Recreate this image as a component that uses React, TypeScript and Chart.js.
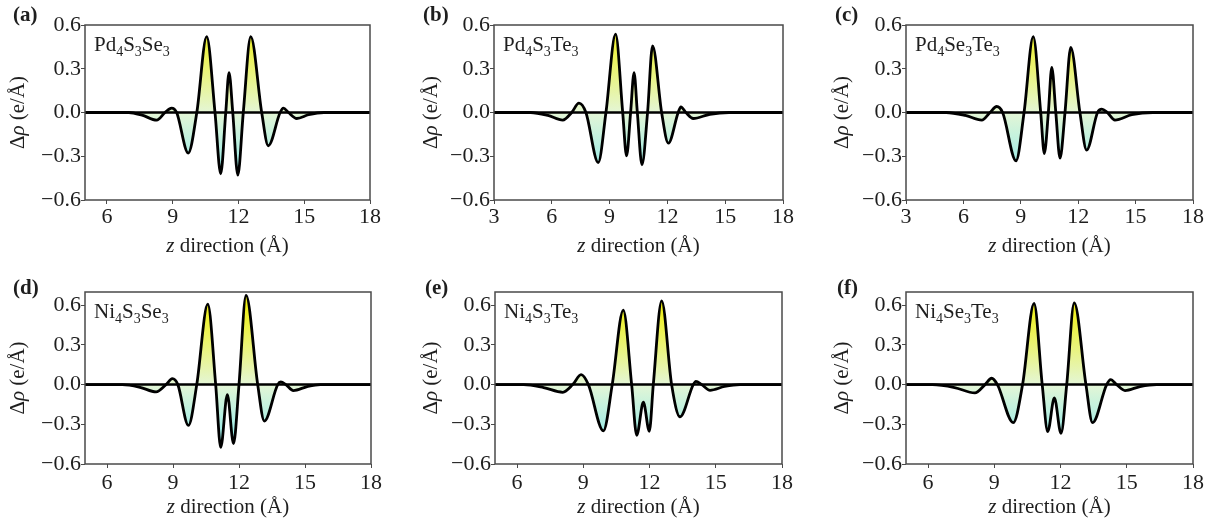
import React, { useEffect, useRef } from 'react';
import { Chart, registerables } from 'chart.js';

Chart.register(...registerables);

const FONT = '"Liberation Serif", "Times New Roman", Times, serif';

// ---------- data (z in Å, Δρ in e/Å) ----------
// (a) Pd4S3Se3
const zA = [5, 7.0, 7.6, 8.27, 8.65, 8.95, 9.18, 9.71, 10.1, 10.55, 10.93, 11.19, 11.42, 11.57, 11.74, 11.97, 12.22, 12.56, 13.06, 13.36, 13.9, 14.05, 14.28, 14.66, 15.2, 15.9, 18];
const rhoA = [0, 0, -0.018, -0.052, 0, 0.03, 0, -0.278, 0, 0.52, 0, -0.42, 0, 0.274, 0, -0.43, 0, 0.52, 0, -0.228, 0, 0.03, 0, -0.041, -0.015, 0, 0];
// (b) Pd4S3Te3
const zB = [3, 4.9, 5.8, 6.57, 7.03, 7.41, 7.77, 8.41, 8.81, 9.31, 9.68, 9.88, 10.09, 10.27, 10.44, 10.68, 10.97, 11.23, 11.7, 12.05, 12.56, 12.7, 12.96, 13.34, 14.2, 15.2, 18];
const rhoB = [0, 0, -0.02, -0.052, 0, 0.064, 0, -0.343, 0, 0.537, 0, -0.297, 0, 0.274, 0, -0.359, 0, 0.457, 0, -0.21, 0, 0.039, 0, -0.041, -0.012, 0, 0];
// (c) Pd4Se3Te3
const zC = [3, 5.1, 6.1, 6.96, 7.39, 7.74, 8.05, 8.75, 9.17, 9.65, 10.04, 10.23, 10.44, 10.62, 10.83, 11.05, 11.31, 11.61, 12.09, 12.44, 13.01, 13.23, 13.52, 13.92, 14.8, 15.9, 18];
const rhoC = [0, 0, -0.02, -0.052, 0, 0.041, 0, -0.331, 0, 0.52, 0, -0.281, 0, 0.309, 0, -0.313, 0, 0.446, 0, -0.258, 0, 0.023, 0, -0.052, -0.015, 0, 0];
// (d) Ni4S3Se3
const zD = [5, 6.7, 7.5, 8.23, 8.68, 8.97, 9.22, 9.7, 10.08, 10.58, 10.94, 11.17, 11.47, 11.75, 12.0, 12.32, 12.85, 13.15, 13.76, 13.9, 14.13, 14.47, 15.1, 15.7, 18];
const rhoD = [0, 0, -0.02, -0.055, 0, 0.045, 0, -0.308, 0, 0.608, 0, -0.475, -0.075, -0.445, 0, 0.675, 0, -0.275, 0, 0.02, 0, -0.045, -0.015, 0, 0];
// (e) Ni4S3Te3
const zE = [5, 6.3, 7.2, 8.07, 8.52, 8.9, 9.23, 9.91, 10.31, 10.81, 11.19, 11.42, 11.72, 11.99, 12.17, 12.55, 13.0, 13.38, 13.98, 14.1, 14.36, 14.74, 15.4, 16.1, 18];
const rhoE = [0, 0, -0.022, -0.058, 0, 0.075, 0, -0.35, 0, 0.563, 0, -0.383, -0.133, -0.353, 0, 0.633, 0, -0.243, 0, 0.025, 0, -0.043, -0.014, 0, 0];
// (f) Ni4Se3Te3
const zF = [5, 6.2, 7.2, 8.12, 8.58, 8.88, 9.14, 9.86, 10.28, 10.8, 11.17, 11.42, 11.72, 12.02, 12.28, 12.62, 13.15, 13.45, 14.09, 14.27, 14.54, 14.92, 15.6, 16.35, 18];
const rhoF = [0, 0, -0.022, -0.063, 0, 0.048, 0, -0.288, 0, 0.613, 0, -0.355, -0.1, -0.368, 0, 0.618, 0, -0.288, 0, 0.038, 0, -0.045, -0.015, 0, 0];

const xTicks5 = [6, 9, 12, 15, 18];
const xTicks3 = [3, 6, 9, 12, 15, 18];
const yTicks = [-0.6, -0.3, 0, 0.3, 0.6];
const xRange5 = [5, 18];
const xRange3 = [3, 18];
const yRangeTop = [-0.6, 0.6];
const yRangeBottom = [-0.6, 0.7];

const letters = ['(a)', '(b)', '(c)', '(d)', '(e)', '(f)'];
const compounds = ['Pd_4S_3Se_3', 'Pd_4S_3Te_3', 'Pd_4Se_3Te_3', 'Ni_4S_3Se_3', 'Ni_4S_3Te_3', 'Ni_4Se_3Te_3'];

// ---------- layout ----------
type Layout = {
  left: number; top: number; width: number; height: number;
  padTop: number; padRight: number; axisW: number; axisH: number;
  letterX: number; letterY: number; yTitleX: number; xTitleY: number; xTickPad: number;
};

const layouts: Layout[] = [
  { left: 0, top: 0, width: 410, height: 262, padTop: 25, padRight: 40, axisW: 85, axisH: 62, letterX: 13, letterY: 21, yTitleX: 18, xTitleY: 252, xTickPad: 0 },
  { left: 410, top: 0, width: 410, height: 262, padTop: 25, padRight: 37, axisW: 84, axisH: 62, letterX: 13, letterY: 21, yTitleX: 21, xTitleY: 252, xTickPad: 0 },
  { left: 820, top: 0, width: 389, height: 262, padTop: 25, padRight: 16, axisW: 86, axisH: 62, letterX: 15, letterY: 21, yTitleX: 22, xTitleY: 252, xTickPad: 0 },
  { left: 0, top: 262, width: 410, height: 262, padTop: 30, padRight: 39, axisW: 85, axisH: 60, letterX: 13, letterY: 32, yTitleX: 18, xTitleY: 251, xTickPad: 2 },
  { left: 410, top: 262, width: 410, height: 262, padTop: 30, padRight: 38, axisW: 85, axisH: 60, letterX: 15, letterY: 32, yTitleX: 21, xTitleY: 251, xTickPad: 2 },
  { left: 820, top: 262, width: 389, height: 262, padTop: 30, padRight: 16, axisW: 86, axisH: 60, letterX: 17, letterY: 32, yTitleX: 22, xTitleY: 251, xTickPad: 2 },
];

type Panel = {
  letter: string; compound: string; z: number[]; rho: number[];
  xRange: number[]; xTicks: number[]; yRange: number[]; L: Layout;
};

const panels: Panel[] = [
  { letter: letters[0], compound: compounds[0], z: zA, rho: rhoA, xRange: xRange5, xTicks: xTicks5, yRange: yRangeTop, L: layouts[0] },
  { letter: letters[1], compound: compounds[1], z: zB, rho: rhoB, xRange: xRange3, xTicks: xTicks3, yRange: yRangeTop, L: layouts[1] },
  { letter: letters[2], compound: compounds[2], z: zC, rho: rhoC, xRange: xRange3, xTicks: xTicks3, yRange: yRangeTop, L: layouts[2] },
  { letter: letters[3], compound: compounds[3], z: zD, rho: rhoD, xRange: xRange5, xTicks: xTicks5, yRange: yRangeBottom, L: layouts[3] },
  { letter: letters[4], compound: compounds[4], z: zE, rho: rhoE, xRange: xRange5, xTicks: xTicks5, yRange: yRangeBottom, L: layouts[4] },
  { letter: letters[5], compound: compounds[5], z: zF, rho: rhoF, xRange: xRange5, xTicks: xTicks5, yRange: yRangeBottom, L: layouts[5] },
];

const TEXT = '#1e1e1e';

function fillGradient(context: any) {
  const chart = context.chart;
  const { ctx, chartArea, scales } = chart;
  if (!chartArea || !scales.y) return 'rgba(0,0,0,0)';
  const y = scales.y;
  const g = ctx.createLinearGradient(0, y.getPixelForValue(0.6), 0, y.getPixelForValue(-0.6));
  g.addColorStop(0, 'rgb(240,240,20)');
  g.addColorStop(0.5, 'rgb(228,246,214)');
  g.addColorStop(1, 'rgb(112,230,242)');
  return g;
}

function drawFormula(ctx: CanvasRenderingContext2D, s: string, x: number, y: number) {
  let cx = x;
  let i = 0;
  while (i < s.length) {
    if (s[i] === '_') {
      const d = s[i + 1];
      ctx.font = `14px ${FONT}`;
      ctx.fillText(d, cx, y + 5);
      cx += ctx.measureText(d).width;
      i += 2;
    } else {
      let j = i;
      while (j < s.length && s[j] !== '_') j++;
      const t = s.slice(i, j);
      ctx.font = `21px ${FONT}`;
      ctx.fillText(t, cx, y);
      cx += ctx.measureText(t).width;
      i = j;
    }
  }
}

function drawParts(ctx: CanvasRenderingContext2D, parts: { t: string; it: boolean }[], cx: number, y: number, size: number) {
  let total = 0;
  const widths = parts.map((p) => {
    ctx.font = `${p.it ? 'italic ' : ''}${size}px ${FONT}`;
    const w = ctx.measureText(p.t).width;
    total += w;
    return w;
  });
  let x = cx - total / 2;
  parts.forEach((p, k) => {
    ctx.font = `${p.it ? 'italic ' : ''}${size}px ${FONT}`;
    ctx.fillText(p.t, x, y);
    x += widths[k];
  });
}

function decorPlugin(p: Panel) {
  return {
    id: 'decor',
    afterDraw(chart: any) {
      const { ctx, chartArea: a } = chart;
      const L = p.L;
      ctx.save();
      ctx.strokeStyle = '#4a4a4a';
      ctx.lineWidth = 1.5;
      ctx.strokeRect(a.left, a.top, a.right - a.left, a.bottom - a.top);

      ctx.fillStyle = TEXT;
      ctx.textAlign = 'left';
      ctx.textBaseline = 'alphabetic';
      ctx.font = `bold 21px ${FONT}`;
      ctx.fillText(p.letter, L.letterX, L.letterY);

      drawFormula(ctx, p.compound, a.left + 9, a.top + 26);

      drawParts(ctx, [{ t: 'z', it: true }, { t: ' direction (Å)', it: false }], (a.left + a.right) / 2, L.xTitleY, 21);

      ctx.save();
      ctx.translate(L.yTitleX, (a.top + a.bottom) / 2);
      ctx.rotate(-Math.PI / 2);
      ctx.textBaseline = 'middle';
      drawParts(ctx, [{ t: 'Δ', it: false }, { t: 'ρ', it: true }, { t: ' (e/Å)', it: false }], 0, 0, 21);
      ctx.restore();

      ctx.restore();
    },
  };
}

function fmtY(v: number) {
  const s = Math.abs(v) < 1e-9 ? '0.0' : v.toFixed(1);
  return s.replace('-', '\u2212');
}

function PanelChart({ p }: { p: Panel }) {
  const ref = useRef<HTMLCanvasElement>(null);
  useEffect(() => {
    const canvas = ref.current;
    if (!canvas) return;
    const L = p.L;
    const chart = new Chart(canvas, {
      type: 'line',
      data: {
        datasets: [
          {
            data: [{ x: p.xRange[0], y: 0 }, { x: p.xRange[1], y: 0 }],
            borderColor: '#000',
            borderWidth: 2.5,
            pointRadius: 0,
            fill: false,
          } as any,
          {
            data: p.z.map((z, i) => ({ x: z, y: p.rho[i] })),
            borderColor: '#000',
            borderWidth: 2.8,
            pointRadius: 0,
            fill: 'origin',
            backgroundColor: fillGradient,
            cubicInterpolationMode: 'monotone',
          } as any,
        ],
      },
      options: {
        responsive: false,
        maintainAspectRatio: false,
        animation: false,
        events: [],
        layout: { padding: { top: L.padTop, right: L.padRight, left: 0, bottom: 0 } },
        plugins: { legend: { display: false }, tooltip: { enabled: false }, title: { display: false } },
        scales: {
          x: {
            type: 'linear',
            min: p.xRange[0],
            max: p.xRange[1],
            afterFit: (s: any) => { s.height = L.axisH; },
            afterBuildTicks: (s: any) => { s.ticks = p.xTicks.map((v) => ({ value: v })); },
            border: { display: false },
            grid: { display: true, drawOnChartArea: false, drawTicks: true, tickLength: 4, color: '#4a4a4a', lineWidth: 1 },
            ticks: { color: TEXT, font: { family: FONT, size: 22 }, padding: L.xTickPad, maxRotation: 0, autoSkip: false, callback: (v: any) => String(v) },
          },
          y: {
            type: 'linear',
            min: p.yRange[0],
            max: p.yRange[1],
            afterFit: (s: any) => { s.width = L.axisW; },
            afterBuildTicks: (s: any) => { s.ticks = yTicks.map((v) => ({ value: v })); },
            border: { display: false },
            grid: { display: true, drawOnChartArea: false, drawTicks: true, tickLength: 4, color: '#4a4a4a', lineWidth: 1 },
            ticks: { color: TEXT, font: { family: FONT, size: 22 }, padding: 0, autoSkip: false, callback: (v: any) => fmtY(Number(v)) },
          },
        },
      } as any,
      plugins: [decorPlugin(p)],
    });
    return () => chart.destroy();
  }, [p]);
  return (
    <canvas
      ref={ref}
      width={p.L.width}
      height={p.L.height}
      style={{ position: 'absolute', left: p.L.left, top: p.L.top, width: p.L.width, height: p.L.height }}
    />
  );
}

export default function App() {
  return (
    <div style={{ position: 'absolute', left: 0, top: 0, width: 1209, height: 524, background: '#fff', overflow: 'hidden' }}>
      {panels.map((p) => (
        <PanelChart key={p.letter} p={p} />
      ))}
    </div>
  );
}
